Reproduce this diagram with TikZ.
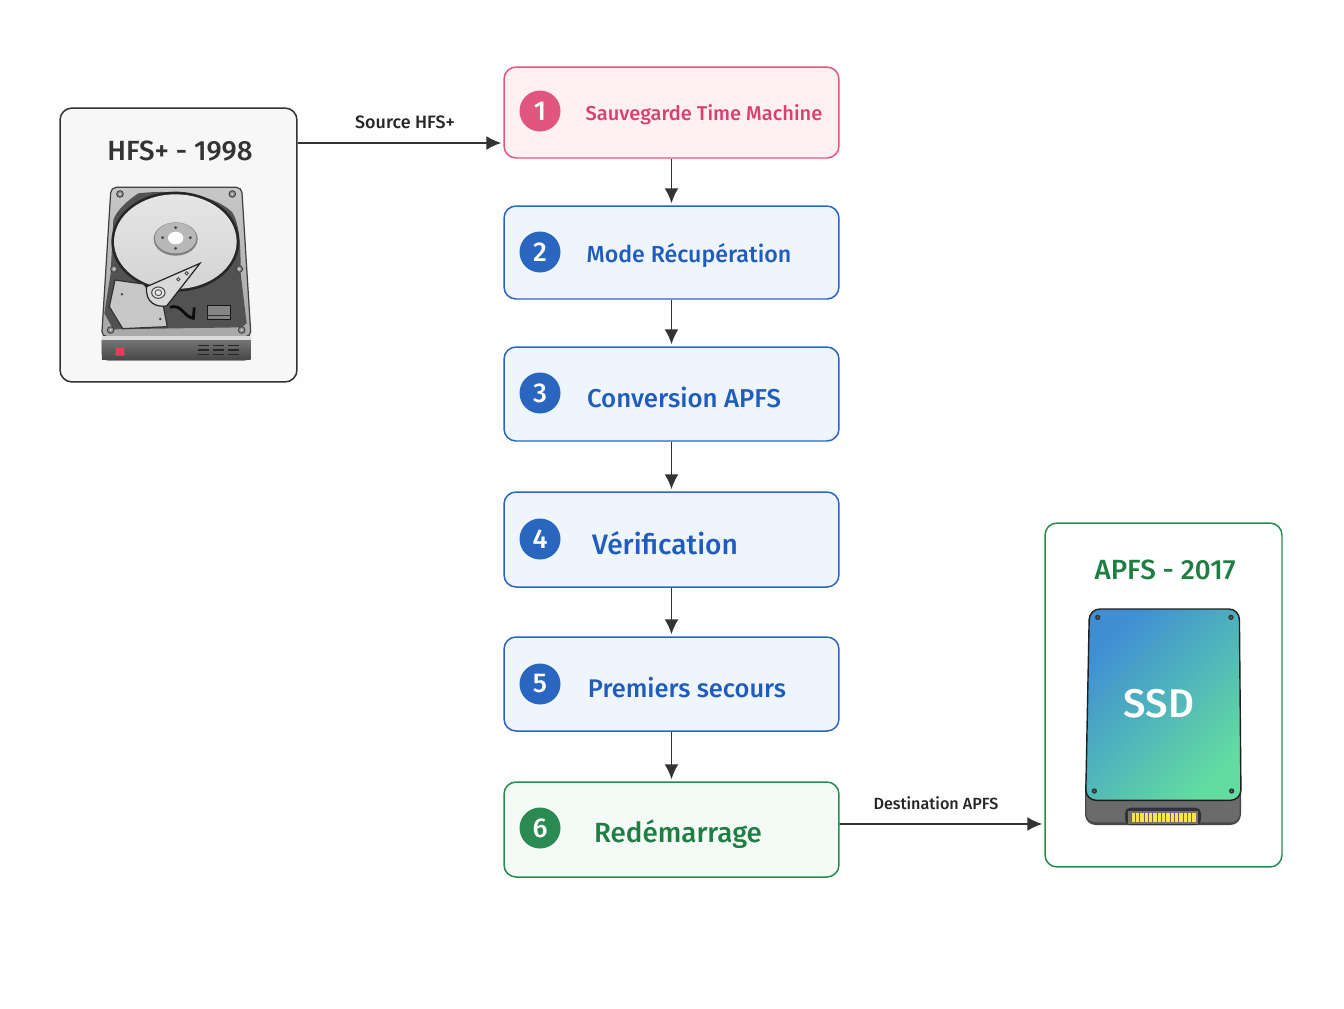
\documentclass[tikz,border=0pt]{standalone}
\usepackage{fontspec}
\setmainfont[BoldFont={Fira Sans Medium}]{Fira Sans}
\usepackage{tikz}
\definecolor{inkdark}{HTML}{333333}
\definecolor{rosefill}{HTML}{FEF0F3}
\definecolor{roseline}{HTML}{E0567F}
\definecolor{rosetext}{HTML}{D9406F}
\definecolor{bluefill}{HTML}{EFF5FD}
\definecolor{blueline}{HTML}{2A65BF}
\definecolor{bluetext}{HTML}{1F5CBD}
\definecolor{greenfill}{HTML}{F4FAF6}
\definecolor{greenline}{HTML}{2A8A4F}
\definecolor{greentext}{HTML}{1F7F43}
\definecolor{ssdblue}{HTML}{3F8ED4}
\definecolor{ssdgreen}{HTML}{62DCA0}
\tikzset{
  stepbox/.style={draw,rounded corners=0.24cm,line width=0.85pt,minimum width=6.7cm,inner sep=0pt},
  discbadge/.style={circle,minimum size=0.82cm,inner sep=0pt,text=white,font=\bfseries\fontsize{15.5}{15}\selectfont},
  diskbox/.style={draw,rounded corners=0.24cm,line width=0.85pt,minimum width=4.74cm,inner sep=0pt},
  flow/.style={draw=inkdark,line width=1pt,-{Latex[length=0.3cm,width=0.28cm]},shorten >=0.04cm},
  flowtext/.style={text=black!85},
  screw/.style={fill=black!45,draw=black!75,line width=0.5pt},
}
\usetikzlibrary{arrows.meta}
\begin{document}
\begin{tikzpicture}[x=0.02cm,y=-0.02cm]
\useasboundingbox[fill=white!99.5!black] (0,0) rectangle (1344,1008);
%% source and destination frames
\node[diskbox,draw=inkdark,fill=black!3,minimum height=5.48cm] (hfs) at (178.5,245) {};
\node[diskbox,draw=greenline,fill=white,minimum height=6.88cm] (apfs) at (1163.5,695) {};
\node[font=\bfseries\fontsize{15.8}{16}\selectfont,text=inkdark] (hfstitle) at (180,151) {HFS+ - 1998};
\node[font=\bfseries\fontsize{15.8}{16}\selectfont,text=greentext] (apfstitle) at (1165,570) {APFS - 2017};
%% the six steps
\node[stepbox,draw=roseline,fill=rosefill,minimum height=1.82cm] (step1) at (671.5,112.5) {};
\node[stepbox,draw=blueline,fill=bluefill,minimum height=1.86cm] (step2) at (671.5,252.5) {};
\node[stepbox,draw=blueline,fill=bluefill,minimum height=1.88cm] (step3) at (671.5,394) {};
\node[stepbox,draw=blueline,fill=bluefill,minimum height=1.90cm] (step4) at (671.5,539.5) {};
\node[stepbox,draw=blueline,fill=bluefill,minimum height=1.88cm] (step5) at (671.5,684) {};
\node[stepbox,draw=greenline,fill=greenfill,minimum height=1.90cm] (step6) at (671.5,829.5) {};
%%
\node[discbadge,fill=roseline] (badge1) at (540,111) {1};
\node[discbadge,fill=blueline] (badge2) at (540,252) {2};
\node[discbadge,fill=blueline] (badge3) at (540,393) {3};
\node[discbadge,fill=blueline] (badge4) at (540,539) {4};
\node[discbadge,fill=blueline] (badge5) at (540,684) {5};
\node[discbadge,fill=greenline] (badge6) at (540,828) {6};
%%
\node[text=rosetext,font=\bfseries\fontsize{11.4}{14}\selectfont] (label1) at (704,115) {Sauvegarde Time Machine};
\node[text=bluetext,font=\bfseries\fontsize{13.2}{14}\selectfont] (label2) at (689,256) {Mode Récupération};
\node[text=bluetext,font=\bfseries\fontsize{14.7}{14}\selectfont] (label3) at (684,397) {Conversion APFS};
\node[text=bluetext,font=\bfseries\fontsize{16}{16}\selectfont] (label4) at (665,543) {Vérification};
\node[text=bluetext,font=\bfseries\fontsize{14.5}{14}\selectfont] (label5) at (687,688) {Premiers secours};
\node[text=greentext,font=\bfseries\fontsize{15.8}{16}\selectfont] (label6) at (678,834) {Redémarrage};
%% connectors
\draw[flow] ([yshift=2.04cm]hfs.east) -- ([yshift=-0.61cm]step1.west);
\draw[flow] (step1) -- (step2);
\draw[flow] (step2) -- (step3);
\draw[flow] (step3) -- (step4);
\draw[flow] (step4) -- (step5);
\draw[flow] (step5) -- (step6);
\draw[flow] ([yshift=0.11cm]step6.east) -- ([yshift=-2.58cm]apfs.west);
\node[flowtext,font=\bfseries\fontsize{10.2}{12}\selectfont] (srclabel) at (405,122) {Source HFS+};
\node[flowtext,font=\bfseries\fontsize{9.2}{12}\selectfont] (dstlabel) at (936,803) {Destination APFS};
%% hard disk
\begin{scope}[shift={(50,100)},x=0.02cm/3,y=-0.02cm/3]
\fill[black!65,rounded corners=4pt] (155,700) -- (603,700) -- (603,782) -- (155,782) -- cycle;
\shade[top color=black!55,bottom color=black!72] (156,722) rectangle (602,778);
\path[draw=black!75,line width=0.7pt,rounded corners=3pt,top color=black!22,bottom color=black!34] (183,262) -- (575,262) -- (603,710) -- (155,710) -- cycle;
\fill[black!14] (156,708) rectangle (602,720);
%% cavity
\fill[black!68] (265,280) .. controls (350,270) and (480,275) .. (545,335) .. controls (570,370) and (572,440) .. (572,520) -- (590,670) -- (575,682) -- (190,688) -- (163,640) -- (182,520) -- (190,360) .. controls (200,330) and (235,300) .. (265,280) -- cycle;
%% platter
\fill[black!85] (376,425) ellipse (192 and 150);
\shade[top color=black!10,bottom color=black!17] (376,425) ellipse (184 and 142);
\fill[black!50] (377,417) ellipse (66 and 50);
\fill[black!28] (377,414) ellipse (62 and 46);
\fill[white] (377,414) ellipse (23 and 19);
\foreach \hx/\hy in {377/383,338/413,421/413,377/445} {
  \fill[black!70] (\hx,\hy) circle (5);
}
%% arm plate and arm
\fill[black!22,draw=black!80,line width=0.7pt] (195,540) -- (280,552) -- (340,618) -- (352,680) -- (218,686) -- (178,620) -- cycle;
\fill[black!75] (216,583) circle (4);
\fill[black!75] (331,657) circle (4);
\fill[black!15,draw=black!85,line width=0.7pt] (290,560) -- (450,490) -- (350,618) .. controls (320,622) and (285,610) .. (290,560) -- cycle;
\draw[black!70,line width=0.6pt,fill=black!10] (325,578) ellipse (20 and 17);
\draw[black!70,line width=0.5pt] (325,578) ellipse (10 and 9);
\foreach \hx/\hy in {385/538,410/520} {
  \draw[black!70,line width=0.5pt] (\hx,\hy) circle (5);
}
%% actuator and chip
\draw[black!95,line width=1.6pt] (360,622) .. controls (395,610) and (400,650) .. (430,655) -- (433,622);
\fill[black!48,draw=black!90,line width=0.5pt] (472,615) rectangle (542,658);
\draw[black!80,line width=0.5pt] (472,646) -- (542,646);
%% screws
\foreach \hx/\hy in {210/282,547/282,192/507,568/507,182/690,575/690} {
  \draw[screw] (\hx,\hy) circle (10);
  \fill[black!20] (\hx,\hy) circle (4);
}
%% front panel
\fill[red!80!magenta!80!white,draw=black!60,line width=0.4pt] (197,742) rectangle (224,765);
\foreach \hx in {445,490,535} {
  \foreach \hy in {737,750,763} {
    \draw[black!85,line width=0.7pt] (\hx,\hy) -- +(33,0);
  }
}
\end{scope}
%% solid state disk
\begin{scope}[shift={(1035,515)},x=0.02cm/3,y=-0.02cm/3]
\fill[black!72,rounded corners=6pt] (150,780) -- (618,780) -- (618,930) -- (150,930) -- cycle;
\fill[black!58,rounded corners=5pt] (154,800) rectangle (614,922);
\draw[black!88,line width=0.8pt,rounded corners=6pt,top color=ssdblue,bottom color=ssdgreen,shading angle=45] (163,282) -- (613,282) -- (618,856) -- (152,856) -- cycle;
\foreach \hx/\hy in {188/307,588/307,178/828,590/828} {
  \fill[black!80] (\hx,\hy) circle (8);
  \fill[black!55] (\hx,\hy) circle (3);
}
\fill[black!80,rounded corners=3pt] (270,878) rectangle (498,930);
\fill[black!55] (280,888) rectangle (490,926);
\fill[yellow!75!orange!70] (288,895) rectangle (483,922);
\foreach \i in {0,...,14} {
  \draw[black!60,line width=0.35pt] (288+13*\i,895) -- (288+13*\i,922);
}
\end{scope}
\node[font=\bfseries\fontsize{22.8}{24}\selectfont,text=white] (ssdname) at (1159,704) {SSD};
\end{tikzpicture}
\end{document}
